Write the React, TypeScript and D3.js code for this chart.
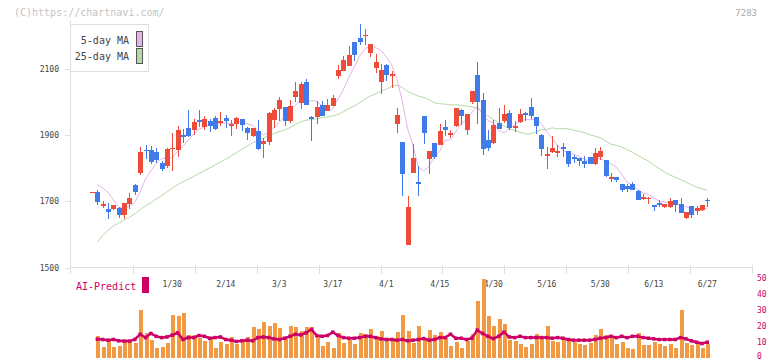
import React from 'react';
import * as d3 from 'd3';

// daily candles, index 0 = first session shown
const opens = [1727, 1729, 1687, 1677, 1677, 1680, 1660, 1693, 1749, 1787, 1856, 1856, 1850, 1817, 1808, 1860, 1856, 1899, 1923, 1916,
  1946, 1926, 1944, 1953, 1938, 1953, 1929, 1934, 1950, 1922, 1896, 1914, 1872, 1878, 1947, 1980, 1986, 1944, 2014, 1998,
  2061, 1955, 1954, 1992, 1974, 1989, 2079, 2095, 2110, 2182, 2194, 2201, 2149, 2104, 2061, 2113, 2082, 1935, 1880, 1569,
  1786, 1759, 1959, 1829, 1877, 1871, 1925, 1902, 1928, 1977, 1916, 2001, 2083, 2007, 1886, 1877, 1938, 1944, 1968, 1922,
  1941, 1968, 1986, 1956, 1901, 1838, 1850, 1849, 1863, 1853, 1835, 1832, 1823, 1835, 1814, 1835, 1826, 1768, 1774, 1753,
  1747, 1753, 1732, 1708, 1708, 1690, 1696, 1683, 1684, 1705, 1693, 1650, 1687, 1671, 1675, 1705];
const highs = [1729, 1735, 1700, 1695, 1690, 1682, 1696, 1725, 1752, 1865, 1871, 1868, 1862, 1822, 1862, 1906, 1928, 1918, 1977, 1950,
  1977, 1959, 1949, 1957, 1971, 1962, 1947, 1955, 1950, 1926, 1923, 1947, 1892, 1969, 1983, 2016, 1986, 2007, 2061, 2062,
  2070, 1959, 2004, 2004, 2010, 2022, 2113, 2140, 2170, 2183, 2236, 2222, 2177, 2146, 2116, 2116, 2095, 1983, 1880, 1717,
  1874, 1807, 1959, 1853, 1877, 1935, 1947, 1916, 1983, 1980, 1965, 2034, 2122, 2028, 1916, 1947, 1983, 1992, 1977, 1944,
  1980, 1971, 2013, 1956, 1904, 1865, 1898, 1871, 1877, 1853, 1841, 1832, 1838, 1835, 1862, 1865, 1826, 1786, 1774, 1753,
  1753, 1759, 1735, 1723, 1714, 1690, 1705, 1693, 1711, 1705, 1711, 1669, 1687, 1687, 1690, 1711];
const lows = [1727, 1690, 1680, 1648, 1675, 1651, 1646, 1678, 1720, 1780, 1828, 1814, 1816, 1793, 1801, 1793, 1834, 1876, 1894, 1901,
  1925, 1916, 1911, 1916, 1928, 1923, 1898, 1920, 1914, 1886, 1895, 1856, 1832, 1869, 1922, 1944, 1928, 1938, 1999, 1980,
  1992, 1883, 1935, 1958, 1974, 1989, 2071, 2094, 2110, 2125, 2173, 2173, 2137, 2089, 2025, 2065, 2043, 1907, 1717, 1568,
  1786, 1717, 1874, 1783, 1829, 1871, 1898, 1892, 1925, 1931, 1901, 1995, 1935, 1841, 1853, 1874, 1919, 1938, 1916, 1910,
  1938, 1944, 1950, 1904, 1838, 1798, 1847, 1835, 1835, 1805, 1817, 1808, 1802, 1813, 1811, 1826, 1774, 1759, 1759, 1729,
  1729, 1735, 1705, 1705, 1693, 1672, 1684, 1681, 1681, 1669, 1665, 1647, 1650, 1659, 1672, 1684];
const closes = [1729, 1697, 1693, 1668, 1689, 1660, 1695, 1711, 1727, 1850, 1854, 1818, 1826, 1797, 1859, 1862, 1916, 1897, 1898, 1941,
  1939, 1950, 1928, 1919, 1944, 1944, 1935, 1953, 1931, 1907, 1922, 1859, 1883, 1968, 1977, 2007, 1944, 1989, 2034, 2055,
  1992, 1948, 1986, 1959, 1992, 2013, 2098, 2128, 2143, 2143, 2182, 2204, 2176, 2122, 2098, 2083, 2084, 1962, 1783, 1683,
  1832, 1753, 1907, 1853, 1835, 1913, 1916, 1907, 1983, 1959, 1965, 2034, 2001, 1859, 1862, 1931, 1919, 1965, 1922, 1928,
  1965, 1962, 1959, 1928, 1859, 1844, 1862, 1851, 1861, 1814, 1829, 1823, 1814, 1814, 1847, 1853, 1777, 1774, 1765, 1735,
  1738, 1735, 1705, 1714, 1711, 1684, 1690, 1693, 1702, 1690, 1665, 1668, 1659, 1680, 1690, 1704];

const ma5 = [null, 1750, 1740, 1727, 1705, 1681, 1681, 1685, 1696, 1729, 1767, 1792, 1815, 1829, 1831, 1832, 1852, 1866, 1886, 1903,
  1918, 1925, 1931, 1935, 1936, 1937, 1934, 1939, 1941, 1934, 1930, 1914, 1900, 1908, 1922, 1939, 1956, 1977, 1990, 2006,
  2003, 2004, 2003, 1988, 1975, 1980, 2010, 2038, 2075, 2105, 2139, 2160, 2170, 2165, 2156, 2137, 2113, 2070, 2002, 1919,
  1869, 1803, 1792, 1806, 1836, 1852, 1885, 1885, 1911, 1936, 1946, 1970, 1988, 1964, 1944, 1937, 1914, 1907, 1920, 1933,
  1940, 1948, 1947, 1948, 1935, 1910, 1890, 1869, 1855, 1846, 1843, 1836, 1828, 1819, 1825, 1830, 1821, 1813, 1803, 1781,
  1758, 1749, 1736, 1725, 1721, 1710, 1701, 1698, 1696, 1692, 1688, 1684, 1677, 1672, 1672, 1680];
const ma25 = [null, 1576, 1597, 1612, 1626, 1634, 1643, 1652, 1662, 1674, 1686, 1696, 1707, 1717, 1728, 1740, 1750, 1759, 1767, 1775,
  1784, 1793, 1801, 1810, 1819, 1827, 1837, 1847, 1858, 1866, 1877, 1883, 1890, 1900, 1905, 1911, 1916, 1923, 1932, 1940,
  1945, 1947, 1950, 1953, 1955, 1958, 1963, 1971, 1980, 1988, 1998, 2009, 2018, 2025, 2033, 2039, 2048, 2051, 2044, 2032,
  2025, 2018, 2014, 2007, 1998, 1995, 1994, 1991, 1992, 1990, 1988, 1986, 1981, 1969, 1958, 1948, 1937, 1928, 1920, 1914,
  1909, 1904, 1904, 1910, 1917, 1917, 1922, 1919, 1920, 1919, 1915, 1912, 1908, 1901, 1897, 1892, 1882, 1873, 1869, 1864,
  1856, 1849, 1839, 1830, 1822, 1810, 1799, 1789, 1780, 1773, 1766, 1758, 1750, 1743, 1738, 1733];

// volume and AI-Predict, on the right-hand 0-50 scale
const volumes = [null, 13.7, 6.7, 10.5, 6.7, 7.4, 9.9, 9.9, 9.3, 30.1, 15.6, 11.2, 6.1, 6.7, 9.3, 26.9, 26.3, 28.2, 14.3, 14.3,
  12.4, 10.5, 11.8, 6.1, 9.9, 8.6, 13.0, 8.6, 10.5, 13.0, 19.3, 18.1, 22.5, 20.0, 21.9, 18.7, 11.8, 20.0, 19.3, 16.8,
  19.3, 19.3, 13.7, 7.4, 9.9, 6.1, 15.6, 9.3, 11.2, 8.6, 15.6, 14.9, 18.1, 13.7, 16.8, 12.4, 12.4, 16.2, 26.9, 16.8,
  9.3, 20.0, 12.4, 17.5, 14.3, 16.2, 12.4, 7.4, 9.9, 6.1, 10.5, 14.9, 35.7, 49.6, 26.3, 20.0, 24.4, 21.2, 11.2, 10.5,
  8.6, 6.7, 8.6, 14.9, 12.4, 20.0, 10.5, 9.9, 11.2, 12.4, 9.9, 8.6, 8.0, 9.3, 14.3, 18.1, 14.3, 13.7, 8.6, 9.9,
  6.1, 5.5, 15.6, 8.0, 8.0, 9.9, 8.6, 7.4, 8.6, 6.1, 30.1, 9.3, 8.0, 9.3, 6.1, 8.6];
const aiPredict = [null, 11.8, 11.6, 11.2, 11.6, 10.8, 10.6, 10.6, 11.6, 14.9, 12.8, 15.4, 13.6, 12.8, 13.2, 14.3, 15.8, 11.6, 12.8, 12.8,
  14.1, 13.6, 12.4, 12.8, 13.2, 11.6, 11.2, 10.4, 10.8, 11.2, 10.8, 12.8, 13.2, 12.8, 12.0, 11.6, 12.4, 13.6, 14.9, 14.5,
  15.8, 17.9, 14.1, 13.6, 14.1, 16.2, 14.1, 12.8, 12.4, 12.4, 12.8, 13.6, 13.6, 12.8, 12.0, 11.6, 11.6, 11.2, 11.6, 10.8,
  11.2, 11.6, 12.2, 11.2, 11.6, 12.8, 12.8, 14.9, 12.4, 12.4, 11.6, 12.4, 17.5, 15.4, 13.6, 12.2, 13.6, 16.2, 13.2, 12.8,
  13.6, 12.8, 12.8, 12.8, 12.8, 12.8, 12.4, 12.8, 12.4, 11.6, 11.2, 11.2, 11.2, 11.2, 11.6, 12.4, 12.8, 13.6, 12.8, 13.6,
  12.8, 13.6, 13.6, 12.8, 12.4, 12.0, 11.6, 11.6, 11.6, 11.6, 12.8, 12.0, 10.8, 9.9, 9.1, 9.9];

const dateLabels = ['1/30', '2/14', '3/3', '3/17', '4/1', '4/15', '4/30', '5/16', '5/30', '6/13', '6/27'];
const dateIndex = [15, 25, 35, 45, 55, 65, 75, 85, 95, 105, 115];
const priceTicks = [1500, 1700, 1900, 2100];
const rightTicks = [0, 10, 20, 30, 40, 50];

const UP = '#ef4b3a';
const DOWN = '#3f7be9';
const MONO = '"DejaVu Sans Mono", monospace';

const x = d3.scaleLinear().domain([0, closes.length - 1]).range([92, 707.3]);
const y = d3.scaleLinear().domain([1500, 2100]).range([267.5, 69]);
const yr = d3.scaleLinear().domain([0, 50]).range([358, 278.3]);

const App = () => {
  const idx = d3.range(closes.length);

  const maLine = d3.line<number>()
    .defined(i => ma5[i] != null)
    .x(i => x(i))
    .y(i => y(ma5[i] as number));
  const ma25Line = d3.line<number>()
    .defined(i => ma25[i] != null)
    .x(i => x(i))
    .y(i => y(ma25[i] as number));
  const aiLine = d3.line<number>()
    .defined(i => aiPredict[i] != null)
    .x(i => x(i))
    .y(i => yr(aiPredict[i] as number));

  // the x axis is cut into 11 even grid steps
  const gridX = d3.range(12).map(k => 71 + (k * 681) / 11);

  return (
    <svg width={772} height={361} style={{ position: 'absolute', left: 0, top: 0, background: '#fff' }}>
      <text x={14} y={16} fontFamily={MONO} fontSize={10} fill="#c4c4c4">(C)https://chartnavi.com/</text>
      <text x={757} y={16} fontFamily={MONO} fontSize={9} fill="#aaa" textAnchor="end">7283</text>

      {/* axes */}
      <g stroke="#dedede" strokeWidth={1} shapeRendering="crispEdges">
        <line x1={70.5} x2={70.5} y1={20} y2={274} />
        <line x1={71} x2={752} y1={267.5} y2={267.5} />
        {gridX.slice(1).map((gx, k) => (
          <line key={k} x1={Math.round(gx) + 0.5} x2={Math.round(gx) + 0.5} y1={265} y2={274} />
        ))}
        {priceTicks.map(p => (
          <line key={p} x1={65} x2={71} y1={Math.round(y(p)) + 0.5} y2={Math.round(y(p)) + 0.5} />
        ))}
      </g>
      {priceTicks.map(p => (
        <text key={p} x={59} y={y(p) + 3} fontFamily={MONO} fontSize={8} fill="#444" textAnchor="end">{p}</text>
      ))}
      {dateLabels.map((d, k) => (
        <text key={d} x={x(dateIndex[k])} y={287} fontFamily={MONO} fontSize={8} fill="#444" textAnchor="middle">{d}</text>
      ))}

      {/* moving averages */}
      <path d={ma25Line(idx) || ''} fill="none" stroke="#b4dba6" strokeWidth={1} />
      <path d={maLine(idx) || ''} fill="none" stroke="#e7b3ea" strokeWidth={1} />

      {/* candles */}
      <g shapeRendering="crispEdges">
        {idx.map(i => {
          const o = opens[i], c = closes[i];
          const col = c >= o ? UP : DOWN;
          const cx = Math.round(x(i));
          const top = y(Math.max(o, c));
          const h = Math.max(1.5, y(Math.min(o, c)) - top);
          return (
            <g key={i} fill={col}>
              <rect x={cx} y={y(highs[i])} width={1} height={Math.max(1, y(lows[i]) - y(highs[i]))} />
              <rect x={cx - 2} y={top} width={5} height={h} />
            </g>
          );
        })}
      </g>

      {/* legend */}
      <rect x={70.5} y={24.5} width={78} height={47} fill="#fff" stroke="#dedede" />
      <text x={129} y={44} fontFamily={MONO} fontSize={10} fill="#444" textAnchor="end">5-day MA</text>
      <text x={129} y={60} fontFamily={MONO} fontSize={10} fill="#444" textAnchor="end">25-day MA</text>
      <rect x={136.5} y={31.5} width={6} height={15} fill="#e7b3ea" stroke="#555" />
      <rect x={136.5} y={48.5} width={6} height={15} fill="#b4dba6" stroke="#555" />

      {/* volume */}
      <g fill="#f29a43" shapeRendering="crispEdges">
        {idx.filter(i => volumes[i] != null).map(i => (
          <rect key={i} x={Math.round(x(i)) - 1.5} y={yr(volumes[i] as number)} width={4} height={yr(0) - yr(volumes[i] as number)} />
        ))}
      </g>

      {/* AI predict */}
      <text x={76} y={290} fontFamily={MONO} fontSize={10} fill="#cc0066">AI-Predict</text>
      <rect x={142} y={277} width={7} height={16} fill="#cc0066" />
      <path d={aiLine(idx) || ''} fill="none" stroke="#cc0066" strokeWidth={2.5} />
      <g fill="#cc0066">
        {idx.filter(i => aiPredict[i] != null).map(i => (
          <rect key={i} x={x(i) - 1.75} y={yr(aiPredict[i] as number) - 1.75} width={3.5} height={3.5} />
        ))}
      </g>
      {rightTicks.map(t => (
        <text key={t} x={757} y={Math.min(yr(t) + 2.5, 359)} fontFamily={MONO} fontSize={8} fill="#cc0066">{t}</text>
      ))}
    </svg>
  );
};

export default App;
